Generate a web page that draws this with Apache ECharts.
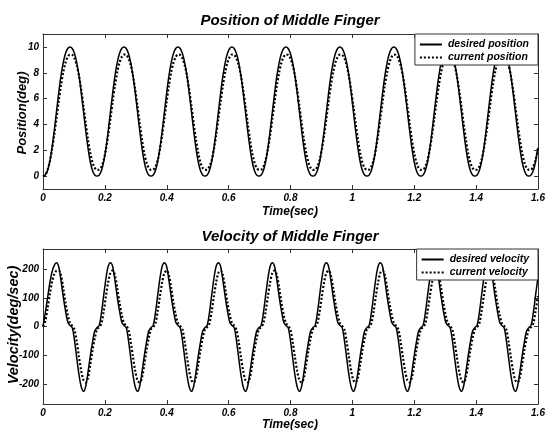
<!DOCTYPE html>
<html><head><meta charset="utf-8">
<script src="https://cdn.jsdelivr.net/npm/echarts@6/dist/echarts.min.js"></script>
<style>html,body{margin:0;padding:0;background:#fff}#c{width:554px;height:430px}</style>
</head><body><div id="c"></div>
<script>
// sample times (s)
const time = [
0,0.00727,0.01454,0.02181,0.02908,0.03635,0.04362,0.05089,0.05816,0.06543,0.0727,0.07997,0.08724,0.09451,0.10178,0.10905,0.11632,0.12359,0.13086,0.13813,0.1454,0.15267,0.15994,0.16721,
0.17448,0.18175,0.18902,0.19629,0.20356,0.21083,0.2181,0.22537,0.23264,0.23991,0.24718,0.25445,0.26172,0.26899,0.27626,0.28353,0.2908,0.29807,0.30534,0.31261,0.31988,0.32715,0.33442,0.34169,
0.34896,0.35623,0.3635,0.37077,0.37804,0.38531,0.39258,0.39985,0.40712,0.41439,0.42166,0.42893,0.4362,0.44347,0.45074,0.45801,0.46528,0.47255,0.47982,0.48709,0.49436,0.50163,0.5089,0.51617,
0.52344,0.53071,0.53798,0.54525,0.55252,0.55979,0.56706,0.57433,0.5816,0.58887,0.59614,0.60341,0.61068,0.61795,0.62522,0.63249,0.63976,0.64703,0.6543,0.66157,0.66884,0.67611,0.68338,0.69065,
0.69792,0.70519,0.71246,0.71973,0.727,0.73427,0.74154,0.74881,0.75608,0.76335,0.77062,0.77789,0.78516,0.79243,0.7997,0.80697,0.81424,0.82151,0.82878,0.83605,0.84332,0.85059,0.85786,0.86513,
0.8724,0.87967,0.88694,0.89421,0.90148,0.90875,0.91602,0.92329,0.93056,0.93783,0.9451,0.95237,0.95964,0.96691,0.97418,0.98145,0.98872,0.99599,1.00326,1.01053,1.0178,1.02507,1.03234,1.03961,
1.04688,1.05415,1.06142,1.06869,1.07596,1.08323,1.0905,1.09777,1.10504,1.11231,1.11958,1.12685,1.13412,1.14139,1.14866,1.15593,1.1632,1.17047,1.17774,1.18501,1.19228,1.19955,1.20682,1.21409,
1.22136,1.22863,1.2359,1.24317,1.25044,1.25771,1.26498,1.27225,1.27952,1.28679,1.29406,1.30133,1.3086,1.31587,1.32314,1.33041,1.33768,1.34495,1.35222,1.35949,1.36676,1.37403,1.3813,1.38857,
1.39584,1.40311,1.41038,1.41765,1.42492,1.43219,1.43946,1.44673,1.454,1.46127,1.46854,1.47581,1.48308,1.49035,1.49762,1.50489,1.51216,1.51943,1.5267,1.53397,1.54124,1.54851,1.55578,1.56305,
1.57032,1.57759,1.58486,1.59213,1.5994
];
// desired position (deg)
const posDesired = [
0,0.09,0.44,1.13,2.19,3.51,5,6.46,7.77,8.79,9.49,9.88,10,9.88,9.49,8.79,7.77,6.46,5,3.51,2.19,1.13,0.44,0.09,
0,0.09,0.44,1.13,2.19,3.51,5,6.46,7.77,8.79,9.49,9.88,10,9.88,9.49,8.79,7.77,6.46,5,3.51,2.19,1.13,0.44,0.09,
0,0.09,0.44,1.13,2.19,3.51,5,6.46,7.77,8.79,9.49,9.88,10,9.88,9.49,8.79,7.77,6.46,5,3.51,2.19,1.13,0.44,0.09,
0,0.09,0.44,1.13,2.19,3.51,5,6.46,7.77,8.79,9.49,9.88,10,9.88,9.49,8.79,7.77,6.46,5,3.51,2.19,1.13,0.44,0.09,
0,0.09,0.44,1.13,2.19,3.51,5,6.46,7.77,8.79,9.49,9.88,10,9.88,9.49,8.79,7.77,6.46,5,3.51,2.19,1.13,0.44,0.09,
0,0.09,0.44,1.13,2.19,3.51,5,6.46,7.77,8.79,9.49,9.88,10,9.88,9.49,8.79,7.77,6.46,5,3.51,2.19,1.13,0.44,0.09,
0,0.09,0.44,1.13,2.19,3.51,5,6.46,7.77,8.79,9.49,9.88,10,9.88,9.49,8.79,7.77,6.46,5,3.51,2.19,1.13,0.44,0.09,
0,0.09,0.44,1.13,2.19,3.51,5,6.46,7.77,8.79,9.49,9.88,10,9.88,9.49,8.79,7.77,6.46,5,3.51,2.19,1.13,0.44,0.09,
0,0.09,0.44,1.13,2.19,3.51,5,6.46,7.77,8.79,9.49,9.88,10,9.88,9.49,8.79,7.77,6.46,5,3.51,2.19,1.13,0.44,0.09,
0,0.09,0.44,1.13,2.19
];
// current position (deg)
const posCurrent = [
0,0.1,0.45,1.1,2.05,3.2,4.48,5.81,7.03,8.04,8.78,9.22,9.41,9.38,9.12,8.59,7.77,6.68,5.41,4.08,2.84,1.8,1.06,0.64,
0.48,0.5,0.74,1.25,2.09,3.2,4.48,5.81,7.03,8.04,8.78,9.22,9.41,9.38,9.12,8.59,7.77,6.68,5.41,4.08,2.84,1.8,1.06,0.64,
0.48,0.5,0.74,1.25,2.09,3.2,4.48,5.81,7.03,8.04,8.78,9.22,9.41,9.38,9.12,8.59,7.77,6.68,5.41,4.08,2.84,1.8,1.06,0.64,
0.48,0.5,0.74,1.25,2.09,3.2,4.48,5.81,7.03,8.04,8.78,9.22,9.41,9.38,9.12,8.59,7.77,6.68,5.41,4.08,2.84,1.8,1.06,0.64,
0.48,0.5,0.74,1.25,2.09,3.2,4.48,5.81,7.03,8.04,8.78,9.22,9.41,9.38,9.12,8.59,7.77,6.68,5.41,4.08,2.84,1.8,1.06,0.64,
0.48,0.5,0.74,1.25,2.09,3.2,4.48,5.81,7.03,8.04,8.78,9.22,9.41,9.38,9.12,8.59,7.77,6.68,5.41,4.08,2.84,1.8,1.06,0.64,
0.48,0.5,0.74,1.25,2.09,3.2,4.48,5.81,7.03,8.04,8.78,9.22,9.41,9.38,9.12,8.59,7.77,6.68,5.41,4.08,2.84,1.8,1.06,0.64,
0.48,0.5,0.74,1.25,2.09,3.2,4.48,5.81,7.03,8.04,8.78,9.22,9.41,9.38,9.12,8.59,7.77,6.68,5.41,4.08,2.84,1.8,1.06,0.64,
0.48,0.5,0.74,1.25,2.09,3.2,4.48,5.81,7.03,8.04,8.78,9.22,9.41,9.38,9.12,8.59,7.77,6.68,5.41,4.08,2.84,1.8,1.06,0.64,
0.48,0.5,0.74,1.25,2.09
];
// desired velocity (deg/sec)
const velDesired = [
0,47,98,150,190,213,222,208,160,104,55,16,4,-4,-48,-109,-168,-210,-226,-208,-160,-104,-55,-16,
-4,4,48,109,168,210,222,208,160,104,55,16,4,-4,-48,-109,-168,-210,-226,-208,-160,-104,-55,-16,
-4,4,48,109,168,210,222,208,160,104,55,16,4,-4,-48,-109,-168,-210,-226,-208,-160,-104,-55,-16,
-4,4,48,109,168,210,222,208,160,104,55,16,4,-4,-48,-109,-168,-210,-226,-208,-160,-104,-55,-16,
-4,4,48,109,168,210,222,208,160,104,55,16,4,-4,-48,-109,-168,-210,-226,-208,-160,-104,-55,-16,
-4,4,48,109,168,210,222,208,160,104,55,16,4,-4,-48,-109,-168,-210,-226,-208,-160,-104,-55,-16,
-4,4,48,109,168,210,222,208,160,104,55,16,4,-4,-48,-109,-168,-210,-226,-208,-160,-104,-55,-16,
-4,4,48,109,168,210,222,208,160,104,55,16,4,-4,-48,-109,-168,-210,-226,-208,-160,-104,-55,-16,
-4,4,48,109,168,210,222,208,160,104,55,16,4,-4,-48,-109,-168,-210,-226,-208,-160,-104,-55,-16,
-4,4,48,109,168
];
// current velocity (deg/sec)
const velCurrent = [
0,18,62,112,155,182,194,195,178,134,83,41,12,2,-11,-53,-106,-155,-187,-195,-178,-134,-83,-41,
-10,-2,11,53,106,155,187,195,178,134,83,41,12,2,-11,-53,-106,-155,-187,-195,-178,-134,-83,-41,
-10,-2,11,53,106,155,187,195,178,134,83,41,12,2,-11,-53,-106,-155,-187,-195,-178,-134,-83,-41,
-10,-2,11,53,106,155,187,195,178,134,83,41,12,2,-11,-53,-106,-155,-187,-195,-178,-134,-83,-41,
-10,-2,11,53,106,155,187,195,178,134,83,41,12,2,-11,-53,-106,-155,-187,-195,-178,-134,-83,-41,
-10,-2,11,53,106,155,187,195,178,134,83,41,12,2,-11,-53,-106,-155,-187,-195,-178,-134,-83,-41,
-10,-2,11,53,106,155,187,195,178,134,83,41,12,2,-11,-53,-106,-155,-187,-195,-178,-134,-83,-41,
-10,-2,11,53,106,155,187,195,178,134,83,41,12,2,-11,-53,-106,-155,-187,-195,-178,-134,-83,-41,
-10,-2,11,53,106,155,187,195,178,134,83,41,12,2,-11,-53,-106,-155,-187,-195,-178,-134,-83,-41,
-10,-2,11,53,106
];
const posTicks = [0, 2, 4, 6, 8, 10];
const velTicks = [-200, -100, 0, 100, 200];
const seriesNames = ['desired position', 'current position', 'desired velocity', 'current velocity'];

const FONT = "'Liberation Sans', Arial, sans-serif";
const AX = '#333';
const pair = arr => time.map((t, i) => [t, arr[i]]);

function xAxes(gi) {
  const base = {
    gridIndex: gi, type: 'value', min: 0, max: 1.6, interval: 0.2,
    axisLine: { onZero: false, lineStyle: { color: AX, width: 1 } },
    axisTick: { inside: true, length: 4, lineStyle: { color: AX } },
    splitLine: { show: false }
  };
  return [
    Object.assign({}, base, { position: 'bottom',
      axisLabel: { margin: 4, fontSize: 10, fontWeight: 'bold', fontStyle: 'italic', fontFamily: FONT, color: '#000',
        formatter: v => String(+v.toFixed(1)) } }),
    Object.assign({}, base, { position: 'top', axisLabel: { show: false } })
  ];
}
function yAxes(gi, min, max, ticks) {
  const base = {
    gridIndex: gi, type: 'value', min: min, max: max,
    axisLine: { show: true, onZero: false, lineStyle: { color: AX, width: 1 } },
    axisTick: { show: true, inside: true, length: 4, customValues: ticks, lineStyle: { color: AX } },
    splitLine: { show: false }
  };
  return [
    Object.assign({}, base, { position: 'left',
      axisLabel: { margin: 4, customValues: ticks, fontSize: 10, fontWeight: 'bold', fontStyle: 'italic', fontFamily: FONT, color: '#000' } }),
    Object.assign({}, base, { position: 'right', axisLabel: { show: false } })
  ];
}
function legend(top, names) {
  return {
    data: names, orient: 'vertical', right: 16, top: top, align: 'left',
    itemWidth: 22, itemHeight: 10, itemGap: 2, padding: [5, 9, 2, 4],
    itemStyle: { color: 'rgba(0,0,0,0)', borderWidth: 0, opacity: 0 },
    backgroundColor: '#fff', borderColor: AX, borderWidth: 1, borderRadius: 0,
    textStyle: { fontSize: 10.5, fontWeight: 'bold', fontStyle: 'italic', fontFamily: FONT, color: '#000', padding: [0, 0, 0, 1] }
  };
}
const solid = { color: '#000', width: 1.5, type: 'solid' };
const dotted = { color: '#000', width: 2.2, type: [2, 2] };
function txt(x, y, text, size, rot) {
  return { type: 'text', x: x, y: y, rotation: rot || 0, z: 100,
    style: { text: text, fontSize: size, fontWeight: 'bold', fontStyle: 'italic', fontFamily: FONT, fill: '#000',
      align: 'center', verticalAlign: 'middle' } };
}

const chart = echarts.init(document.getElementById('c'));
chart.setOption({
  animation: false,
  backgroundColor: '#fff',
  grid: [
    { left: 43, right: 16, top: 34, height: 155 },
    { left: 43, right: 16, top: 249, height: 155 }
  ],
  xAxis: xAxes(0).concat(xAxes(1)),
  yAxis: yAxes(0, -1, 11, posTicks).concat(yAxes(1, -270, 270, velTicks)),
  legend: [legend(34, seriesNames.slice(0, 2)), legend(249, seriesNames.slice(2, 4))],
  graphic: [
    txt(290, 21, 'Position of Middle Finger', 15),
    txt(290, 237, 'Velocity of Middle Finger', 15),
    txt(290, 212, 'Time(sec)', 12),
    txt(290, 425, 'Time(sec)', 12),
    txt(22, 113, 'Position(deg)', 13, Math.PI / 2),
    txt(14, 325, 'Velocity(deg/sec)', 14.5, Math.PI / 2)
  ],
  series: [
    { name: seriesNames[0], type: 'line', xAxisIndex: 0, yAxisIndex: 0, data: pair(posDesired), symbol: 'none', smooth: 0.3, lineStyle: solid, itemStyle: { color: '#000' } },
    { name: seriesNames[1], type: 'line', xAxisIndex: 0, yAxisIndex: 0, data: pair(posCurrent), symbol: 'none', smooth: 0.3, lineStyle: dotted, itemStyle: { color: '#000' } },
    { name: seriesNames[2], type: 'line', xAxisIndex: 2, yAxisIndex: 2, data: pair(velDesired), symbol: 'none', smooth: 0.3, lineStyle: solid, itemStyle: { color: '#000' } },
    { name: seriesNames[3], type: 'line', xAxisIndex: 2, yAxisIndex: 2, data: pair(velCurrent), symbol: 'none', smooth: 0.3, lineStyle: dotted, itemStyle: { color: '#000' } }
  ]
});
</script></body></html>
